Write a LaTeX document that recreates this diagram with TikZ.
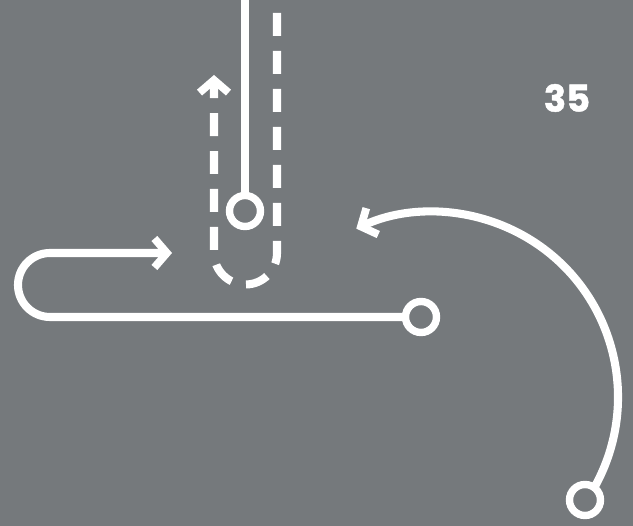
\documentclass[tikz,border=0pt]{standalone}
\usepackage{fontspec}
\newfontfamily\numfont{Poppins}[BoldFeatures={FakeBold=1.2}]
\usepackage{tikz}
\usetikzlibrary{arrows.meta, calc}
\usepackage{xcolor}
\definecolor{slategray}{HTML}{75797C}
\definecolor{chalk}{HTML}{FFFFFF}

\begin{document}
\begin{tikzpicture}[x=0.02cm, y=0.02cm,
  track/.style={draw=chalk, line width=4.6pt},
  dashtrack/.style={track, dash pattern=on 0.46cm off 0.3cm},
  ring/.style={circle, draw=chalk, line width=4.2pt, fill=slategray,
    minimum size=0.62cm, inner sep=0pt},
  tip/.style={-{Straight Barb[length=0.25cm, width=0.58cm, line width=4.4pt]}}]
  % Background
  \useasboundingbox (0, 0) rectangle (633, 526);
  \fill[slategray] (0, 0) rectangle (633, 526);

  % Page number
  \node[font=\numfont\bfseries\fontsize{21}{21}\selectfont, text=chalk] (pagenum)
    at (567, 428) {35};

  % Dashed U-turn around the stop
  \coordinate (uin) at (277, 513);
  \coordinate (uout) at (214, 451);
  \draw[dashtrack, tip] (uin) -- (277, 273)
    arc[start angle=0, end angle=-180, radius=31.5] -- (uout);

  % Straight line down to the stop
  \coordinate (feed) at (245, 526);
  \node[ring] (stop) at (245, 315) {};
  \draw[track] (feed) -- (stop);

  % Hook from the lower stop
  \node[ring] (lower) at (421, 209) {};
  \coordinate (hookend) at (172, 273);
  \draw[track, tip] (lower) -- (50, 209)
    arc[start angle=270, end angle=90, radius=32] -- (hookend);

  % Long arc from the corner stop
  \coordinate (arcc) at (433, 129);
  \node[ring] (corner) at (585, 26) {};
  \draw[track, tip] ($(arcc)+(-29.4:185)$)
    arc[start angle=-29.4, end angle=114.5, radius=185];
\end{tikzpicture}
\end{document}
